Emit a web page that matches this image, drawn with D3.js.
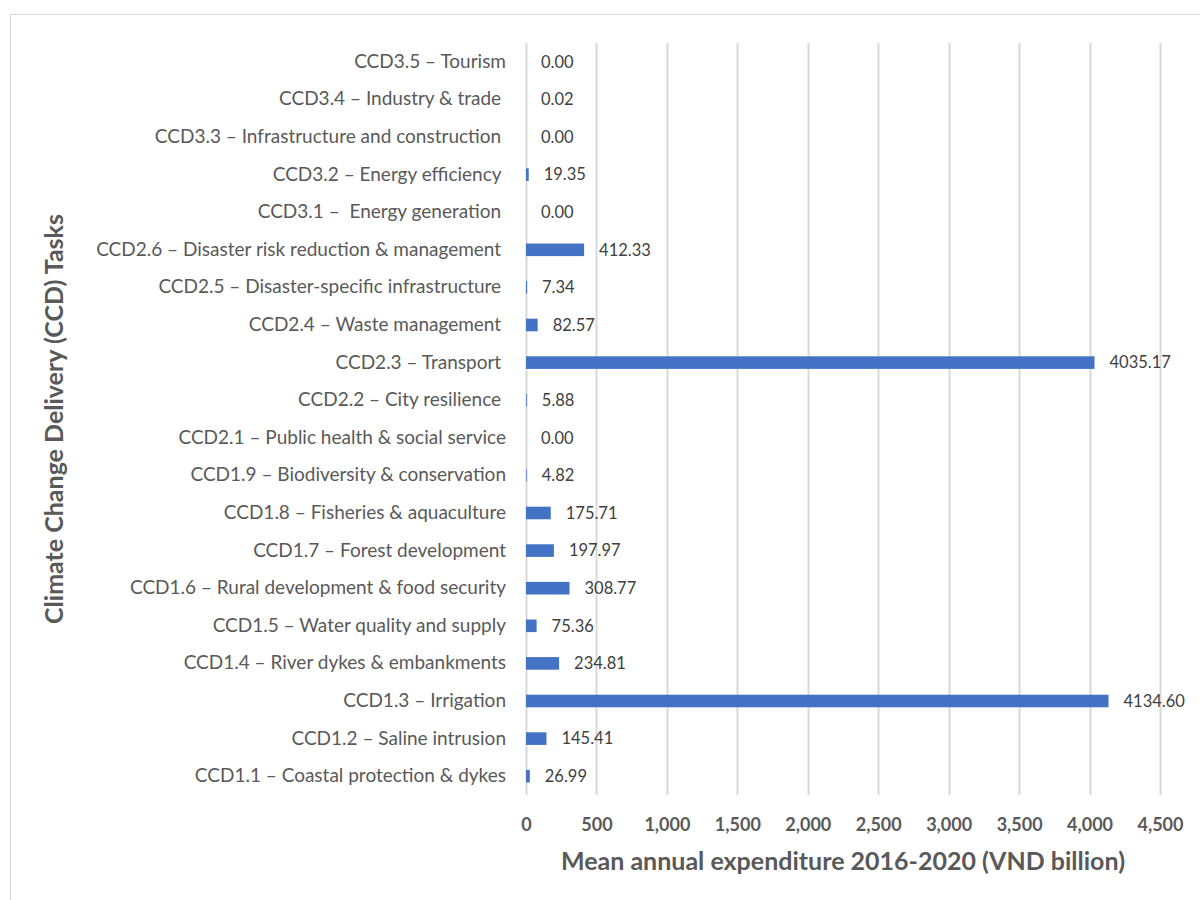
<!DOCTYPE html>
<html>
<head>
<meta charset="utf-8">
<script src="https://cdn.jsdelivr.net/npm/d3@7"></script>
<style>
  html, body { margin: 0; padding: 0; background: #fff; }
  svg text { font-family: Lato, "Open Sans", sans-serif; white-space: pre; }
</style>
</head>
<body>
<svg id="chart" width="1200" height="900"></svg>
<script>
// Climate Change Delivery task categories, top to bottom
const categories = [
  "CCD3.5 – Tourism",
  "CCD3.4 – Industry & trade ",
  "CCD3.3 – Infrastructure and construction ",
  "CCD3.2 – Energy efficiency ",
  "CCD3.1 –  Energy generation ",
  "CCD2.6 – Disaster risk reduction & management ",
  "CCD2.5 – Disaster-specific infrastructure ",
  "CCD2.4 – Waste management ",
  "CCD2.3 – Transport ",
  "CCD2.2 – City resilience ",
  "CCD2.1 – Public health & social service",
  "CCD1.9 – Biodiversity & conservation",
  "CCD1.8 – Fisheries & aquaculture",
  "CCD1.7 – Forest development",
  "CCD1.6 – Rural development & food security",
  "CCD1.5 – Water quality and supply",
  "CCD1.4 – River dykes & embankments",
  "CCD1.3 – Irrigation",
  "CCD1.2 – Saline intrusion",
  "CCD1.1 – Coastal protection & dykes"
];

// Mean annual expenditure 2016-2020 (VND billion)
const values = [
  0.00, 0.02, 0.00, 19.35, 0.00,
  412.33, 7.34, 82.57, 4035.17, 5.88,
  0.00, 4.82, 175.71, 197.97, 308.77,
  75.36, 234.81, 4134.60, 145.41, 26.99
];

const xTicks = [0, 500, 1000, 1500, 2000, 2500, 3000, 3500, 4000, 4500];

const xTitle = "Mean annual expenditure 2016-2020 (VND billion)";
const yTitle = "Climate Change Delivery (CCD) Tasks";

const svg = d3.select("#chart");

// chart frame
svg.append("rect")
  .attr("x", 10.5).attr("y", 14.5)
  .attr("width", 1200).attr("height", 900)
  .attr("fill", "none").attr("stroke", "#d9d9d9").attr("stroke-width", 1);

const plot = { left: 526, right: 1160, top: 43, bottom: 795 };

const x = d3.scaleLinear().domain([0, 4500]).range([plot.left, plot.right]);
const y = d3.scaleBand().domain(categories).range([plot.top, plot.bottom]).paddingInner(0.665).paddingOuter(0.3325);

// vertical gridlines
svg.append("g")
  .selectAll("line")
  .data(xTicks)
  .join("line")
  .attr("x1", d => Math.round(x(d)) + 0.5)
  .attr("x2", d => Math.round(x(d)) + 0.5)
  .attr("y1", plot.top)
  .attr("y2", plot.bottom)
  .attr("stroke", "#d9d9d9")
  .attr("stroke-width", 2);

// bars
svg.append("g")
  .selectAll("rect")
  .data(values)
  .join("rect")
  .attr("x", x(0))
  .attr("y", (d, i) => y(categories[i]))
  .attr("width", d => x(d) - x(0))
  .attr("height", y.bandwidth())
  .attr("fill", "#4472c4");

// value labels
svg.append("g")
  .selectAll("text")
  .data(values)
  .join("text")
  .attr("x", d => x(d) + 15)
  .attr("y", (d, i) => y(categories[i]) + y.bandwidth() / 2)
  .attr("dy", "0.35em")
  .attr("font-size", 16.5)
  .attr("fill", "#404040")
  .text(d => d.toFixed(2));

// category labels (y axis)
const yAxis = d3.axisLeft(y).tickSize(0).tickPadding(0);
const yg = svg.append("g")
  .attr("transform", `translate(${plot.left - 20},0)`)
  .call(yAxis);
yg.select(".domain").remove();
yg.selectAll("text")
  .attr("font-size", 19)
  .attr("fill", "#595959")
  .style("font-family", "Lato, 'Open Sans', sans-serif");

// x axis tick labels
const xAxis = d3.axisBottom(x).tickValues(xTicks).tickSize(0).tickPadding(0).tickFormat(d3.format(","));
const xg = svg.append("g")
  .attr("transform", `translate(0,818)`)
  .call(xAxis);
xg.select(".domain").remove();
xg.selectAll("text")
  .attr("font-size", 18)
  .attr("font-weight", "bold")
  .attr("fill", "#595959")
  .style("font-family", "Lato, 'Open Sans', sans-serif");

// axis titles
svg.append("text")
  .attr("x", (plot.left + plot.right) / 2)
  .attr("y", 861)
  .attr("dy", "0.35em")
  .attr("text-anchor", "middle")
  .attr("font-size", 25)
  .attr("font-weight", "bold")
  .attr("fill", "#595959")
  .text(xTitle);

svg.append("text")
  .attr("transform", `translate(54,${(plot.top + plot.bottom) / 2}) rotate(-90)`)
  .attr("dy", "0.35em")
  .attr("text-anchor", "middle")
  .attr("font-size", 25)
  .attr("font-weight", "bold")
  .attr("fill", "#595959")
  .text(yTitle);
</script>
</body>
</html>
